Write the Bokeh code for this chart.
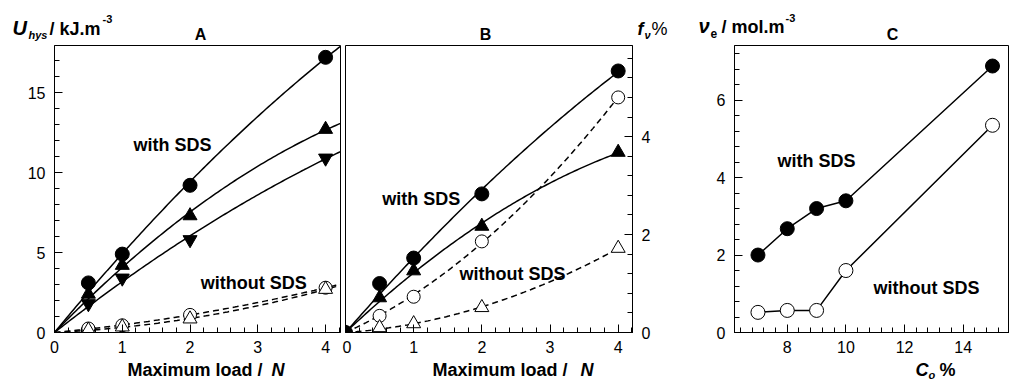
import numpy as np
from bokeh.plotting import figure
from bokeh.layouts import row
from bokeh.models import Range1d, SingleIntervalTicker, Label
from bokeh.embed import file_html
from bokeh.resources import INLINE

# ---------------- data ----------------
# Panel A: hysteresis energy vs maximum load
a_load = [0.5, 1, 2, 4]
a_circle_sds = [3.1, 4.9, 9.2, 17.2]
a_tri_sds = [2.4, 4.2, 7.3, 12.7]
a_invtri_sds = [1.8, 3.4, 5.8, 10.9]
a_circle_nosds = [0.25, 0.45, 1.1, 2.8]
a_tri_nosds = [0.15, 0.35, 0.85, 2.7]

# Panel B: f_v % vs maximum load
b_load = [0, 0.5, 1, 2, 4]
b_circle_sds = [0, 1.0, 1.52, 2.83, 5.34]
b_tri_sds = [0, 0.71, 1.26, 2.17, 3.68]
b_circle_nosds = [0, 0.34, 0.73, 1.86, 4.8]
b_tri_nosds = [0, 0.1, 0.18, 0.51, 1.72]

# Panel C: crosslink density vs concentration
c_conc = [7, 8, 9, 10, 15]
c_sds = [2.0, 2.68, 3.2, 3.4, 6.88]
c_nosds = [0.52, 0.57, 0.57, 1.6, 5.35]

FONT = "Liberation Sans"
FRAME_TOP, FRAME_BOTTOM = 45, 332
W, H = 1009, 381

A_X, A_Y = (0, 4.22), (0, 17.94)
B_X, B_Y = (0, 4.21), (0, 5.86)
C_X, C_Y = (6.2, 15.58), (0, 7.41)


def make_fig(width, xr, yr, bl, br, yloc="left"):
    p = figure(width=width, height=H, x_range=Range1d(*xr), y_range=Range1d(*yr),
               output_backend="svg", toolbar_location=None,
               min_border_left=bl, min_border_right=br,
               min_border_top=FRAME_TOP, min_border_bottom=H - FRAME_BOTTOM,
               y_axis_location=yloc)
    p.outline_line_color = "black"
    p.outline_line_width = 1
    p.xgrid.visible = False
    p.ygrid.visible = False
    p.background_fill_color = "white"
    p.border_fill_color = "white"
    for ax in p.axis:
        ax.axis_line_color = "black"
        ax.major_tick_line_color = "black"
        ax.minor_tick_line_color = "black"
        ax.major_tick_in = 8
        ax.major_tick_out = 0
        ax.minor_tick_in = 5
        ax.minor_tick_out = 0
        ax.major_label_text_font = FONT
        ax.major_label_text_font_size = "16px"
        ax.major_label_text_color = "black"
    p.xaxis.major_label_standoff = 8
    p.yaxis.major_label_standoff = 9
    return p


def note(p, x, y, s, size=18, style="bold"):
    p.add_layout(Label(x=x, y=y, text=s, text_font=FONT,
                       text_font_size=f"{size}px", text_font_style=style,
                       text_color="black", text_align="center",
                       text_baseline="middle"))


def fit_curve(xs, ys, x_end):
    xs = np.asarray(xs, dtype=float)
    ys = np.asarray(ys, dtype=float)
    design = np.column_stack([xs, xs ** 2])
    coef = np.linalg.lstsq(design, ys, rcond=None)[0]
    xx = np.linspace(0, x_end, 120)
    return xx, coef[0] * xx + coef[1] * xx ** 2


SOLID = dict(line_color="black", line_width=1.5)
DASHED = dict(line_color="black", line_width=1.5, line_dash="6 4")
FILLED = dict(fill_color="black", line_color="black")
OPEN = dict(fill_color="white", line_color="black", line_width=1)

# ---------------- panel A ----------------
pa = make_fig(342, A_X, A_Y, 54, 2)
pa.xaxis.ticker = SingleIntervalTicker(interval=1, num_minor_ticks=5)
pa.yaxis.ticker = SingleIntervalTicker(interval=5, num_minor_ticks=5)

for ys in (a_circle_nosds, a_tri_nosds):
    xx, yy = fit_curve(a_load, ys, A_X[1])
    pa.line(xx, yy, **DASHED)
for ys in (a_circle_sds, a_tri_sds, a_invtri_sds):
    xx, yy = fit_curve(a_load, ys, A_X[1])
    pa.line(xx, yy, **SOLID)

pa.scatter(a_load, a_circle_nosds, marker="circle", size=13, **OPEN)
pa.scatter(a_load, a_tri_nosds, marker="triangle", size=14, **OPEN)
pa.scatter(a_load, a_invtri_sds, marker="inverted_triangle", size=14, **FILLED)
pa.scatter(a_load, a_tri_sds, marker="triangle", size=14, **FILLED)
pa.scatter(a_load, a_circle_sds, marker="circle", size=14, **FILLED)

note(pa, 1.74, 11.7, "with SDS")
note(pa, 2.94, 3.1, "without SDS")

# ---------------- panel B ----------------
pb = make_fig(335, B_X, B_Y, 3, 45, yloc="right")
pb.xaxis.ticker = SingleIntervalTicker(interval=1, num_minor_ticks=5)
pb.yaxis.ticker = SingleIntervalTicker(interval=2, num_minor_ticks=5)

for ys in (b_circle_nosds, b_tri_nosds):
    xx, yy = fit_curve(b_load, ys, 4)
    pb.line(xx, yy, **DASHED)
for ys in (b_circle_sds, b_tri_sds):
    xx, yy = fit_curve(b_load, ys, 4)
    pb.line(xx, yy, **SOLID)

pb.scatter(b_load, b_circle_nosds, marker="circle", size=13, **OPEN)
pb.scatter(b_load, b_tri_nosds, marker="triangle", size=14, **OPEN)
pb.scatter(b_load, b_tri_sds, marker="triangle", size=14, **FILLED)
pb.scatter(b_load, b_circle_sds, marker="circle", size=14, **FILLED)

note(pb, 1.11, 2.73, "with SDS")
note(pb, 2.45, 1.2, "without SDS")

# ---------------- panel C ----------------
pc = make_fig(332, C_X, C_Y, 57, 0)
pc.xaxis.ticker = SingleIntervalTicker(interval=2, num_minor_ticks=5)
pc.yaxis.ticker = SingleIntervalTicker(interval=2, num_minor_ticks=5)

pc.line(c_conc, c_sds, **SOLID)
pc.line(c_conc, c_nosds, **SOLID)
pc.scatter(c_conc, c_nosds, marker="circle", size=14, **OPEN)
pc.scatter(c_conc, c_sds, marker="circle", size=14, **FILLED)

note(pc, 9.0, 4.44, "with SDS")
note(pc, 12.75, 1.14, "without SDS")

# ------- transparent page-sized layer for titles and axis captions -------
ov = figure(width=W, height=H, x_range=Range1d(0, W), y_range=Range1d(H, 0),
            output_backend="svg", toolbar_location=None, min_border=0,
            x_axis_location=None, y_axis_location=None,
            styles={"position": "absolute", "left": "0px", "top": "0px"})
ov.grid.visible = False
ov.outline_line_color = None
ov.background_fill_alpha = 0
ov.border_fill_alpha = 0


def put(px, py, s, size, style="bold", align="left"):
    # py is the intended baseline; the label is anchored a little above it
    ov.add_layout(Label(x=px, y=py - 0.38 * size, text=s, text_font=FONT,
                        text_font_size=f"{size}px", text_font_style=style,
                        text_color="black", text_align=align,
                        text_baseline="alphabetic"))


# panel titles
put(200, 40, "A", 16, align="center")
put(485, 40, "B", 16, align="center")
put(892, 40, "C", 16, align="center")

# panel A: y caption and x caption
put(12, 35, "U", 20, style="bold italic")
put(28, 39, "hys", 11, style="bold italic")
put(49, 35, "/ kJ.m", 18)
put(102, 23, "-3", 11)
put(127, 376, "Maximum load  /", 18)
put(271, 376, "N", 18, style="bold italic")

# panel B: right-axis caption and x caption
put(637, 35, "f", 18, style="bold italic")
put(644, 39, "\u03bd", 11, style="bold italic")
put(651, 35, "%", 18, style="normal")
put(432, 376, "Maximum  load  /", 18)
put(580, 376, "N", 18, style="bold italic")

# panel C: y caption and x caption
put(698, 33, "\u03bd", 20, style="bold italic")
put(710, 38, "e", 12)
put(721, 33, "/ mol.m", 18)
put(785, 22, "-3", 11)
put(915, 376, "C", 18, style="bold italic")
put(928, 379, "o", 11, style="bold italic")
put(939, 376, "%", 18)

layout = row(pa, pb, pc, spacing=0)
open("out.html", "w").write(file_html((layout, ov), INLINE))
